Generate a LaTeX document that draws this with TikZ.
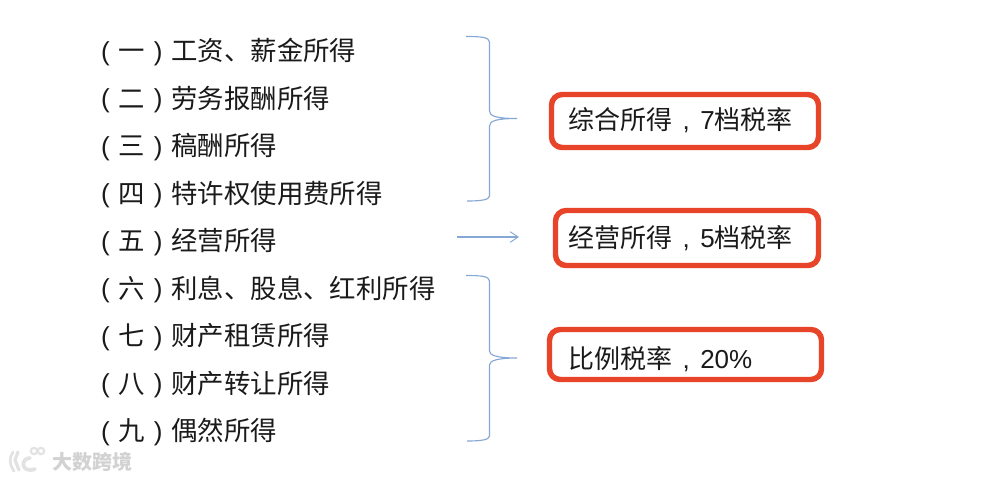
\documentclass[tikz,border=0pt]{standalone}
\usepackage{fontspec}
\usetikzlibrary{arrows.meta}
\setmainfont{Noto Sans CJK SC}
\newfontfamily\latinfont{Liberation Sans}
\newcommand{\lat}[1]{{\latinfont #1}}
\newcommand{\lp}{\makebox[19.8pt][c]{\latinfont\fontsize{19.5pt}{24pt}\selectfont\raisebox{0.3pt}{(}}}
\newcommand{\rp}{\makebox[19.8pt][c]{\latinfont\fontsize{19.5pt}{24pt}\selectfont\raisebox{0.3pt}{)}}}
\newcommand{\cm}{\makebox[21pt][c]{\latinfont ,}}
\definecolor{bracecol}{HTML}{86A8D4}
\definecolor{boxred}{HTML}{E8442A}
\definecolor{inkcol}{HTML}{1A1A1A}
\definecolor{wmfill}{HTML}{E2E2E2}
\definecolor{wmtext}{HTML}{D2D2D2}
\tikzset{
  x=0.75pt,y=-0.75pt,
  item/.style={anchor=base west,inner sep=0pt,font=\fontsize{19.8pt}{24pt}\selectfont,text=inkcol},
  tag/.style={anchor=base west,inner sep=0pt,font=\fontsize{19.5pt}{24pt}\selectfont,text=inkcol},
  redbox/.style={draw=boxred,line width=4.1pt,rounded corners=8pt,fill=white},
  link/.style={draw=bracecol,line width=0.85pt},
  mark text/.style={inner sep=0pt,font=\fontsize{15pt}{18pt}\selectfont\bfseries,text=wmtext},
}
\begin{document}
\begin{tikzpicture}
\useasboundingbox (0,0) rectangle (1006,480);
\fill[white] (0,0) rectangle (1006,480);

% left list
\node[item] (i1) at (92,60.7) {\lp 一\rp 工资、薪金所得};
\node[item] (i2) at (92,108.2) {\lp 二\rp 劳务报酬所得};
\node[item] (i3) at (92,155.7) {\lp 三\rp 稿酬所得};
\node[item] (i4) at (92,203.2) {\lp 四\rp 特许权使用费所得};
\node[item] (i5) at (92,250.7) {\lp 五\rp 经营所得};
\node[item] (i6) at (92,298.2) {\lp 六\rp 利息、股息、红利所得};
\node[item] (i7) at (92,345.7) {\lp 七\rp 财产租赁所得};
\node[item] (i8) at (92,393.2) {\lp 八\rp 财产转让所得};
\node[item] (i9) at (92,440.7) {\lp 九\rp 偶然所得};

% red boxes
\draw[redbox] (551.5,94.5) rectangle (818.5,147.5);
\draw[redbox] (555.5,210.5) rectangle (818.5,265.5);
\draw[redbox] (549.5,329.5) rectangle (821.5,379.5);
\node[tag] (t1) at (568,129) {综合所得\cm\lat{7}档税率};
\node[tag] (t2) at (568,247) {经营所得\cm\lat{5}档税率};
\node[tag] (t3) at (568,368) {比例税率\cm\lat{20\%}};

% braces
\coordinate (b1a) at (466,36.5);
\coordinate (b1m) at (517,118.5);
\coordinate (b1b) at (467,201);
\draw[link] (b1a) .. controls (480,36.5) and (489.5,37) .. (489.5,42)
  -- (489.5,111) .. controls (489.5,116) and (496,118.5) .. (b1m)
  .. controls (496,118.5) and (489.5,121) .. (489.5,126)
  -- (489.5,196) .. controls (489.5,200) and (480,201) .. (b1b);
\coordinate (b2a) at (466,275.5);
\coordinate (b2m) at (517,358);
\coordinate (b2b) at (467,441);
\draw[link] (b2a) .. controls (480,275.5) and (489.5,276) .. (489.5,281)
  -- (489.5,351) .. controls (489.5,355) and (496,358) .. (b2m)
  .. controls (496,358) and (489.5,361) .. (489.5,365)
  -- (489.5,436) .. controls (489.5,440) and (480,441) .. (b2b);

% arrow
\coordinate (a0) at (457,237);
\coordinate (a1) at (519,237);
\draw[link,-{Straight Barb[length=6pt,width=8pt,line width=0.7pt]}] (a0) -- (a1);

% watermark
\draw[wmfill,line width=2pt,line cap=round] (13,452) .. controls (9,458) and (9,464) .. (14,471);
\draw[wmfill,line width=2.4pt,line cap=round] (18,452) -- (15,460) -- (19,470);
\draw[wmfill,line width=2.8pt,line cap=round] (30,458) .. controls (20,458) and (21,474) .. (35,469);
\draw[wmfill,line width=1.6pt] (34,451) circle (3.2);
\draw[wmfill,line width=1.6pt] (41,451) circle (3.2);
\node[mark text,anchor=west] (wm) at (52,461.5) {大数跨境};
\end{tikzpicture}
\end{document}
